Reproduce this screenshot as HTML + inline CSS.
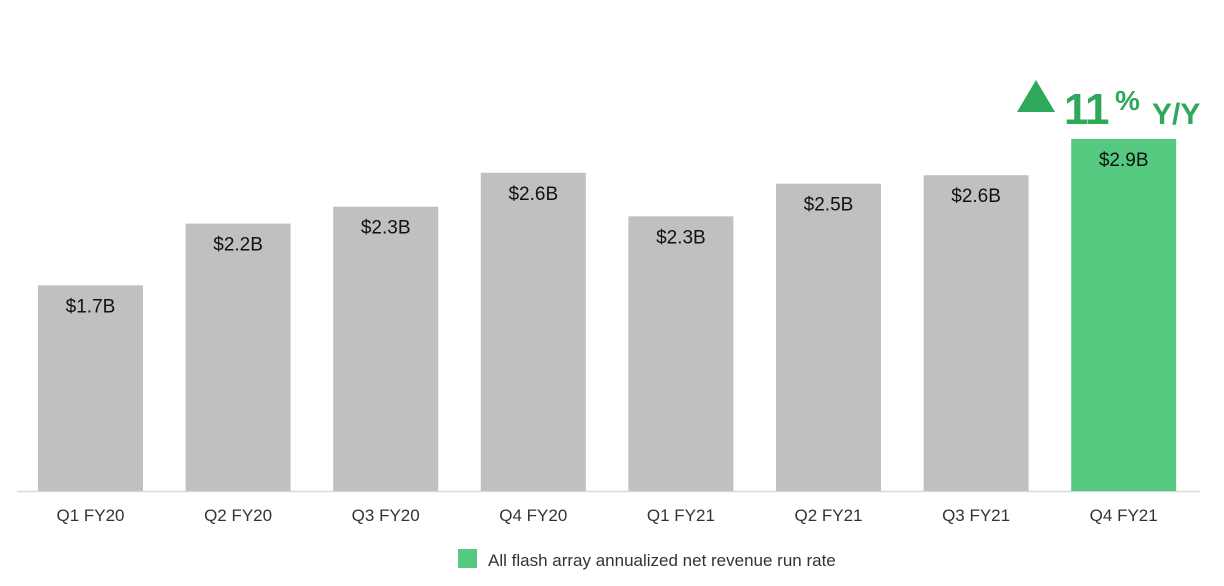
<!DOCTYPE html>
<html><head><meta charset="utf-8"><style>
html,body{margin:0;padding:0;background:#fff;}
svg{display:block;font-family:"Liberation Sans",Arial,sans-serif;}
</style></head><body>
<svg id="chart" width="1224" height="586" viewBox="0 0 1224 586">
<line x1="17" y1="491.5" x2="1200" y2="491.5" stroke="#d9d9d9" stroke-width="1.5"/>
<g id="bars"></g>
<g>
<polygon points="1017,112 1055,112 1036,80" fill="#2ea85a"/>
<text x="1064" y="124" font-size="44" font-weight="bold" fill="#2ea85a" letter-spacing="-1">11</text>
<text x="1115" y="110" font-size="28" font-weight="bold" fill="#2ea85a">%</text>
<text x="1152" y="124" font-size="30" font-weight="bold" fill="#2ea85a">Y/Y</text>
</g>
<g>
<rect x="458" y="549" width="19" height="19" fill="#55c97f"/>
<text x="488" y="566" font-size="17" fill="#333">All flash array annualized net revenue run rate</text>
</g>
</svg>
<script>
const categories=["Q1 FY20","Q2 FY20","Q3 FY20","Q4 FY20","Q1 FY21","Q2 FY21","Q3 FY21","Q4 FY21"];
const values=[1.7,2.21,2.35,2.63,2.27,2.54,2.61,2.91];
const valueLabels=["$1.7B","$2.2B","$2.3B","$2.6B","$2.3B","$2.5B","$2.6B","$2.9B"];
const highlight=[false,false,false,false,false,false,false,true];
const baseY=491, pxPer=121, x0=38, step=147.6, bw=105;
function xPos(i){return x0+i*step;}
function yPos(v){return baseY-v*pxPer;}
const g=document.getElementById('bars');
const NS="http://www.w3.org/2000/svg";
categories.forEach((c,i)=>{
  const r=document.createElementNS(NS,'rect');
  
  
  r.setAttribute('x',xPos(i));r.setAttribute('y',yPos(values[i]));
  r.setAttribute('width',bw);r.setAttribute('height',baseY-yPos(values[i]));
  r.setAttribute('fill',highlight[i]?'#55c97f':'#c0c0c0');
  g.appendChild(r);
  const t=document.createElementNS(NS,'text');
  
  
  t.setAttribute('x',xPos(i)+bw/2);t.setAttribute('y',yPos(values[i])+27);
  t.setAttribute('text-anchor','middle');t.setAttribute('font-size','19');t.setAttribute('fill','#111');
  t.textContent=valueLabels[i];g.appendChild(t);
  const l=document.createElementNS(NS,'text');
  
  
  l.setAttribute('x',xPos(i)+bw/2);l.setAttribute('y',521);
  l.setAttribute('text-anchor','middle');l.setAttribute('font-size','17');l.setAttribute('fill','#333');
  l.textContent=c;g.appendChild(l);
});
</script>
</body></html>
